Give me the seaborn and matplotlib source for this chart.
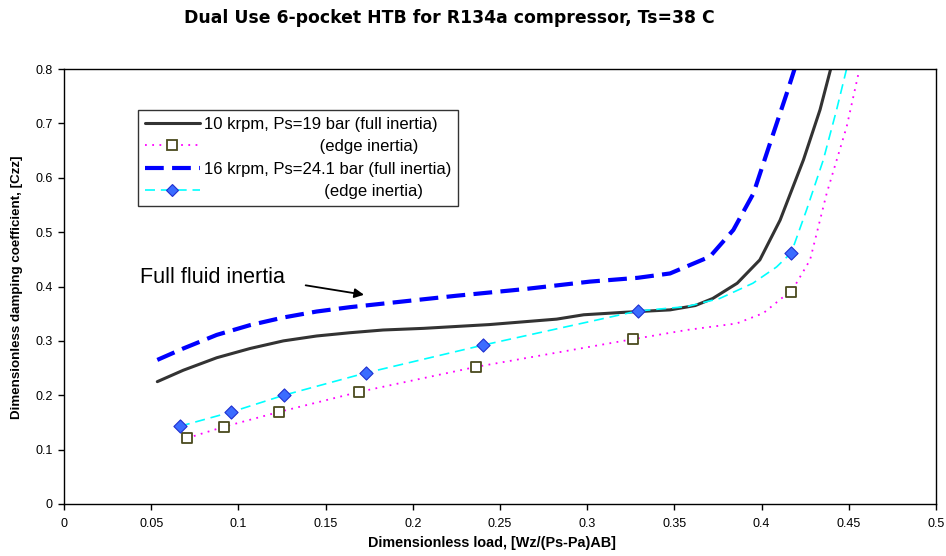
import numpy as np
import seaborn as sns
import matplotlib
matplotlib.use("Agg")
import matplotlib.pyplot as plt
from matplotlib.lines import Line2D
from matplotlib.ticker import FormatStrFormatter, MultipleLocator

# --- data ---
# 10 krpm, Ps=19 bar, full inertia (solid)
x_10_full = [0.0535, 0.0684, 0.0876, 0.1067, 0.1258, 0.1449, 0.164, 0.183, 0.206,
             0.244, 0.2825, 0.298, 0.321, 0.3475, 0.362, 0.372, 0.386, 0.399,
             0.4106, 0.424, 0.4335, 0.4396, 0.445]
y_10_full = [0.225, 0.246, 0.269, 0.286, 0.300, 0.309, 0.315, 0.320, 0.323,
             0.330, 0.340, 0.348, 0.3525, 0.357, 0.365, 0.378, 0.406, 0.449,
             0.522, 0.633, 0.725, 0.800, 0.86]

# 16 krpm, Ps=24.1 bar, full inertia (dashed)
x_16_full = [0.0535, 0.0684, 0.0876, 0.1067, 0.1258, 0.1449, 0.164, 0.193, 0.225,
             0.2634, 0.3016, 0.329, 0.3475, 0.3704, 0.3838, 0.3953, 0.4048,
             0.4144, 0.4197, 0.423]
y_16_full = [0.265, 0.286, 0.311, 0.329, 0.343, 0.354, 0.362, 0.372, 0.383,
             0.395, 0.409, 0.416, 0.424, 0.455, 0.504, 0.571, 0.663,
             0.755, 0.808, 0.86]

# 10 krpm edge inertia: markers and the dotted curve through them
x_10_edge_pts = [0.0705, 0.0917, 0.123, 0.169, 0.236, 0.326, 0.417]
y_10_edge_pts = [0.121, 0.142, 0.169, 0.206, 0.252, 0.303, 0.390]
x_10_edge = [0.0705, 0.0917, 0.123, 0.169, 0.236, 0.326, 0.357, 0.3857, 0.401,
             0.4125, 0.417, 0.4278, 0.4373, 0.4488, 0.4564, 0.459]
y_10_edge = [0.121, 0.142, 0.169, 0.206, 0.252, 0.303, 0.320, 0.332, 0.351,
             0.381, 0.390, 0.449, 0.571, 0.694, 0.804, 0.86]

# 16 krpm edge inertia: markers and the dashed curve through them
x_16_edge_pts = [0.0665, 0.0958, 0.126, 0.173, 0.240, 0.329, 0.417]
y_16_edge_pts = [0.143, 0.169, 0.200, 0.241, 0.292, 0.355, 0.462]
x_16_edge = [0.0665, 0.0958, 0.126, 0.173, 0.240, 0.329, 0.357, 0.376, 0.395,
             0.4086, 0.417, 0.4258, 0.4354, 0.443, 0.4488, 0.452]
y_16_edge = [0.143, 0.169, 0.200, 0.241, 0.292, 0.355, 0.363, 0.378, 0.406,
             0.436, 0.462, 0.541, 0.633, 0.725, 0.801, 0.86]

labels = ["10 krpm, Ps=19 bar (full inertia)",
          " " * 25 + "(edge inertia)",
          "16 krpm, Ps=24.1 bar (full inertia)",
          " " * 26 + "(edge inertia)"]

sns.set_style("white")
plt.rcParams["font.family"] = ["Liberation Sans", "DejaVu Sans"]
plt.rcParams["text.color"] = "black"

fig = plt.figure(figsize=(9.46, 5.56), dpi=100)
ax = fig.add_axes([64 / 946, 1 - 504 / 556, 872 / 946, 435 / 556])

dark = "#333333"
blue = "#0000ff"
magenta = "#ff00ff"
cyan = "#00ffff"

sns.lineplot(x=x_10_full, y=y_10_full, ax=ax, color=dark, lw=2.2,
             estimator=None, sort=False)
sns.lineplot(x=x_10_edge, y=y_10_edge, ax=ax, color=magenta, lw=1.3,
             linestyle=(0, (1, 3)), estimator=None, sort=False)
sns.lineplot(x=x_16_full, y=y_16_full, ax=ax, color=blue, lw=3,
             linestyle=(0, (4.5, 2)), estimator=None, sort=False)
sns.lineplot(x=x_16_edge, y=y_16_edge, ax=ax, color=cyan, lw=1.2,
             linestyle=(0, (6, 3.5)), estimator=None, sort=False)

sq_style = dict(marker="s", s=55, facecolor="white", edgecolor="#4a4a1e", linewidth=1.3, zorder=5)
di_style = dict(marker="D", s=45, facecolor="#3b6cff", edgecolor="#1f2fd0", linewidth=0.8, zorder=5)
sns.scatterplot(x=x_10_edge_pts, y=y_10_edge_pts, ax=ax, **sq_style)
sns.scatterplot(x=x_16_edge_pts, y=y_16_edge_pts, ax=ax, **di_style)

ax.set_xlim(0, 0.5)
ax.set_ylim(0, 0.8)
ax.xaxis.set_major_locator(MultipleLocator(0.05))
ax.yaxis.set_major_locator(MultipleLocator(0.1))
ax.xaxis.set_major_formatter(FormatStrFormatter("%g"))
ax.yaxis.set_major_formatter(FormatStrFormatter("%g"))
ax.tick_params(axis="both", direction="out", length=4, width=1, labelsize=9,
               colors="black", bottom=True, left=True)
ax.tick_params(axis="x", pad=6)
ax.tick_params(axis="y", pad=4)
for sp in ax.spines.values():
    sp.set_color("black")
    sp.set_linewidth(1)
    sp.set_visible(True)

handles = [
    Line2D([], [], color=dark, lw=2.2),
    Line2D([], [], color=magenta, lw=1.3, linestyle=(0, (1, 3)), marker="s",
           markersize=7.5, markerfacecolor="white", markeredgecolor="#4a4a1e", markeredgewidth=1.3),
    Line2D([], [], color=blue, lw=3, linestyle=(0, (4.5, 2))),
    Line2D([], [], color=cyan, lw=1.2, linestyle=(0, (6, 3.5)), marker="D",
           markersize=6.5, markerfacecolor="#3b6cff", markeredgecolor="#1f2fd0", markeredgewidth=0.8),
]
leg = ax.legend(handles, labels, loc="upper left", bbox_to_anchor=(0.085, 0.906),
                borderaxespad=0, fontsize=12, handlelength=3.3, handletextpad=0.25,
                frameon=True, fancybox=False, edgecolor="#333333", framealpha=1,
                borderpad=0.4, labelspacing=0.45)
leg.get_frame().set_linewidth(1)

ax.annotate("", xy=(0.1736, 0.384), xytext=(0.137, 0.403),
            arrowprops=dict(arrowstyle="-|>", color="black", lw=1.3, mutation_scale=14))
ax.text(0.0436, 0.416, "Full fluid inertia", fontsize=15.5, ha="left", va="center")

fig.text(449 / 946, 1 - 18 / 556, "Dual Use 6-pocket HTB for R134a compressor, Ts=38 C",
         ha="center", va="center", fontsize=12.4, fontweight="bold", family="DejaVu Sans")
fig.text(492 / 946, 1 - 543 / 556, "Dimensionless load, [Wz/(Ps-Pa)AB]",
         ha="center", va="center", fontsize=10.4, fontweight="bold")
fig.text(17 / 946, 1 - 287 / 556, "Dimensionless damping coefficient, [Czz]",
         ha="center", va="center", rotation=90, fontsize=9.6, fontweight="bold")

fig.savefig("out.png", dpi=100)
